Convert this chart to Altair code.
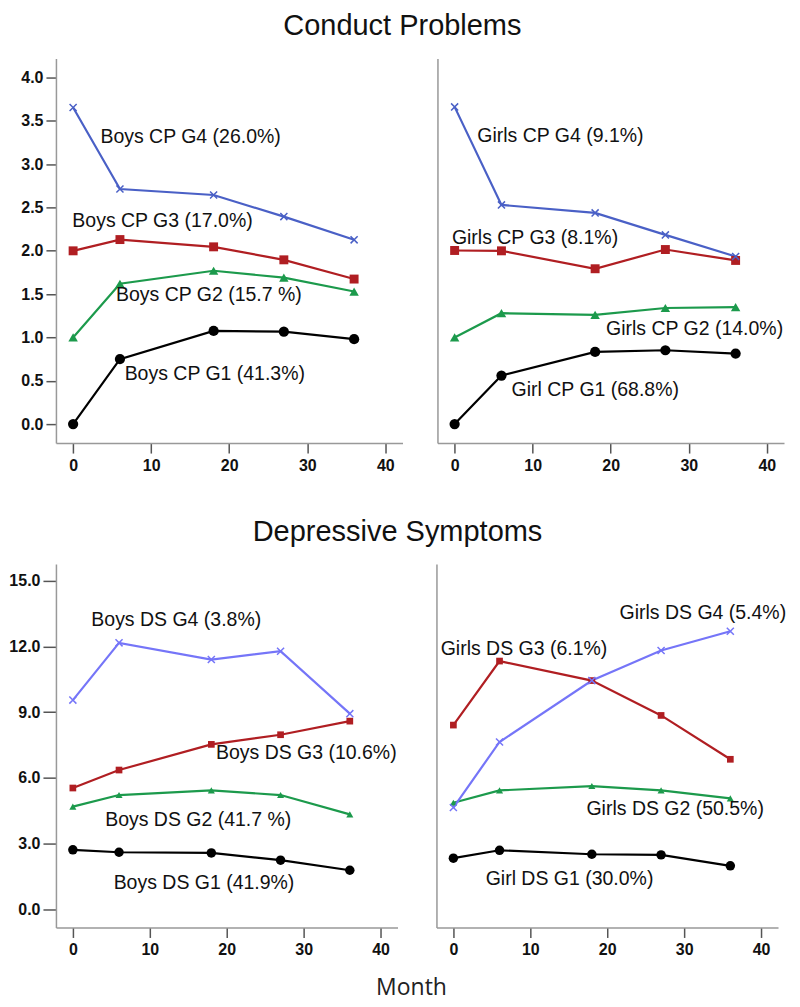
import altair as alt
import pandas as pd

months = [0, 6, 18, 27, 36]
groups = ["G1", "G2", "G3", "G4"]

# Conduct problems – boys
cp_boys_g1 = [0.0, 0.75, 1.075, 1.067, 0.98]
cp_boys_g2 = [1.0, 1.62, 1.77, 1.69, 1.53]
cp_boys_g3 = [2.0, 2.13, 2.046, 1.896, 1.674]
cp_boys_g4 = [3.655, 2.714, 2.645, 2.395, 2.127]
# Conduct problems – girls
cp_girls_g1 = [0.0, 0.56, 0.833, 0.852, 0.814]
cp_girls_g2 = [1.0, 1.28, 1.26, 1.34, 1.35]
cp_girls_g3 = [2.004, 2.0, 1.793, 2.015, 1.889]
cp_girls_g4 = [3.662, 2.53, 2.438, 2.184, 1.935]
# Depressive symptoms – boys
ds_boys_g1 = [2.72, 2.61, 2.58, 2.25, 1.79]
ds_boys_g2 = [4.69, 5.22, 5.43, 5.22, 4.34]
ds_boys_g3 = [5.54, 6.36, 7.53, 7.97, 8.59]
ds_boys_g4 = [9.55, 12.16, 11.4, 11.78, 8.93]
# Depressive symptoms – girls
ds_girls_g1 = [2.34, 2.70, 2.52, 2.49, 1.99]
ds_girls_g2 = [4.87, 5.43, 5.63, 5.43, 5.07]
ds_girls_g3 = [8.41, 11.33, 10.44, 8.85, 6.85]
ds_girls_g4 = [4.65, 7.64, 10.44, 11.81, 12.69]

# annotation texts and their anchor (month, value)
cp_boys_text = ["Boys CP G1 (41.3%)", "Boys CP G2 (15.7 %)", "Boys CP G3 (17.0%)", "Boys CP G4 (26.0%)"]
cp_boys_tx = [6.6, 5.5, -0.1, 3.5]
cp_boys_ty = [0.58, 1.49, 2.35, 3.31]
cp_girls_text = ["Girl CP G1 (68.8%)", "Girls CP G2 (14.0%)", "Girls CP G3 (8.1%)", "Girls CP G4 (9.1%)"]
cp_girls_tx = [7.3, 19.4, -0.35, 2.9]
cp_girls_ty = [0.39, 1.10, 2.15, 3.33]
ds_boys_text = ["Boys DS G1 (41.9%)", "Boys DS G2 (41.7 %)", "Boys DS G3 (10.6%)", "Boys DS G4 (3.8%)"]
ds_boys_tx = [5.3, 4.2, 18.6, 2.4]
ds_boys_ty = [1.20, 4.08, 7.12, 13.22]
ds_girls_text = ["Girl DS G1 (30.0%)", "Girls DS G2 (50.5%)", "Girls DS G3 (6.1%)", "Girls DS G4 (5.4%)"]
ds_girls_tx = [4.2, 17.3, -1.65, 21.6]
ds_girls_ty = [1.38, 4.57, 11.89, 13.53]

cp_colors = ["#000000", "#1c9a4c", "#b01e22", "#4a60c6"]
ds_colors = ["#000000", "#1c9a4c", "#b01e22", "#7575f8"]
XPATH = "M-1,-1L1,1M-1,1L1,-1"


def series_df(vals):
    rows = []
    for g, v in zip(groups, vals):
        for m, y in zip(months, v):
            rows.append({"month": m, "value": y, "group": g})
    return pd.DataFrame(rows)


def label_df(texts, tx, ty):
    return pd.DataFrame({"label": texts, "x": tx, "y": ty})


def panel(vals, texts, tx, ty, ydom, yticks, colors, w, h, left, msize, ytick):
    df = series_df(vals)
    ldf = label_df(texts, tx, ty)
    xscale = alt.Scale(domain=[-2.2, 42.2], nice=False, zero=False)
    yscale = alt.Scale(domain=ydom, nice=False, zero=False)
    xaxis = alt.Axis(values=[0, 10, 20, 30, 40], format="d", title=None, grid=False,
                     labelFontSize=16, labelFontWeight="bold", labelColor="#111",
                     labelFont="Liberation Sans", tickSize=10, tickColor="#555",
                     tickWidth=1.5, domainColor="#999", domainWidth=1.5, labelPadding=4)
    if left:
        yaxis = alt.Axis(values=yticks, format=".1f", title=None, grid=False,
                         labelFontSize=16, labelFontWeight="bold", labelColor="#111",
                         labelFont="Liberation Sans", tickSize=ytick, tickColor="#555",
                         tickWidth=1.5, domainColor="#999", domainWidth=1.5, labelPadding=3)
    else:
        yaxis = alt.Axis(values=yticks, title=None, grid=False, labels=False, ticks=False,
                         domainColor="#999", domainWidth=1.5)
    color = alt.Color("group:N", scale=alt.Scale(domain=groups, range=colors), legend=None)
    base = alt.Chart(df).encode(
        x=alt.X("month:Q", scale=xscale, axis=xaxis),
        y=alt.Y("value:Q", scale=yscale, axis=yaxis),
        color=color,
    )
    lines = base.mark_line(strokeWidth=2.2)
    circles = base.transform_filter(alt.datum.group == "G1").mark_point(
        shape="circle", filled=True, opacity=1, size=msize[0])
    tris = base.transform_filter(alt.datum.group == "G2").mark_point(
        shape="triangle-up", filled=True, opacity=1, size=msize[1])
    squares = base.transform_filter(alt.datum.group == "G3").mark_point(
        shape="square", filled=True, opacity=1, size=msize[2])
    crosses = base.transform_filter(alt.datum.group == "G4").mark_point(
        shape=XPATH, filled=False, opacity=1, size=msize[3], strokeWidth=1.5)
    text = alt.Chart(ldf).mark_text(align="left", baseline="middle", fontSize=19.5,
                                    font="Liberation Sans", color="#111").encode(
        x=alt.X("x:Q", scale=xscale),
        y=alt.Y("y:Q", scale=yscale),
        text="label:N",
    )
    return alt.layer(lines, circles, tris, squares, crosses, text).properties(width=w, height=h)


cp_y = [-0.22, 4.22]
cp_ticks = [0, 0.5, 1.0, 1.5, 2.0, 2.5, 3.0, 3.5, 4.0]
ds_y = [-0.82, 15.76]
ds_ticks = [0, 3, 6, 9, 12, 15]

top_ms = [105, 90, 80, 50]
bot_ms = [90, 50, 45, 50]

p1 = panel([cp_boys_g1, cp_boys_g2, cp_boys_g3, cp_boys_g4], cp_boys_text, cp_boys_tx, cp_boys_ty,
           cp_y, cp_ticks, cp_colors, 347, 385, True, top_ms, 10)
p2 = panel([cp_girls_g1, cp_girls_g2, cp_girls_g3, cp_girls_g4], cp_girls_text, cp_girls_tx, cp_girls_ty,
           cp_y, cp_ticks, cp_colors, 347, 385, False, top_ms, 10)
p3 = panel([ds_boys_g1, ds_boys_g2, ds_boys_g3, ds_boys_g4], ds_boys_text, ds_boys_tx, ds_boys_ty,
           ds_y, ds_ticks, ds_colors, 342, 364, True, bot_ms, 13)
p4 = panel([ds_girls_g1, ds_girls_g2, ds_girls_g3, ds_girls_g4], ds_girls_text, ds_girls_tx, ds_girls_ty,
           ds_y, ds_ticks, ds_colors, 342, 364, False, bot_ms, 13)

title_style = dict(fontSize=29, fontWeight="normal", font="Liberation Sans", color="#111", anchor="middle")

top = alt.hconcat(p1, p2, spacing=35).properties(
    title=alt.TitleParams("Conduct Problems", offset=18, **title_style))
bottom = alt.hconcat(p3, p4, spacing=39).properties(
    title=alt.TitleParams("Depressive Symptoms", offset=17, **title_style))

chart = alt.vconcat(top, bottom, spacing=45).properties(
    padding={"left": 0, "top": 3, "right": 5, "bottom": 5},
    title=alt.TitleParams("Month", orient="bottom", fontSize=23, fontWeight="normal",
                          font="Open Sans", color="#222", anchor="middle", offset=20, dx=14)
).resolve_scale(color="independent").configure_view(stroke=None, strokeWidth=0)

chart.save("out.html", embed_options={"renderer": "svg", "actions": False})
